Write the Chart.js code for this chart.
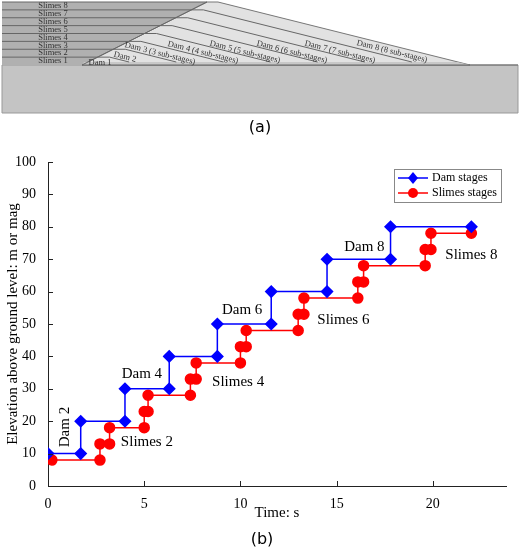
<!DOCTYPE html>
<html><head><meta charset="utf-8">
<script src="https://cdn.jsdelivr.net/npm/chart.js@4"></script>
<style>
html,body{margin:0;padding:0;background:#fff;width:520px;height:554px;overflow:hidden;font-family:"Liberation Serif",serif}
#ca{position:absolute;left:0;top:0;width:520px;height:140px}
#cb{position:absolute;left:0;top:140px;width:520px;height:414px}
</style></head><body>
<div id="ca"><canvas id="a"></canvas></div>
<div id="cb"><canvas id="b"></canvas></div>
<script>
const damX=[0,1.7,1.7,4.0,4.0,6.3,6.3,8.8,8.8,11.6,11.6,14.5,14.5,17.8,17.8,22];
const damY=[10,10,20,20,30,30,40,40,50,50,60,60,70,70,80,80];
const slX=[0.2,2.7,2.7,3.2,3.2,5.0,5.0,5.2,5.2,7.4,7.4,7.7,7.7,10.0,10.0,10.3,10.3,13.0,13.0,13.3,13.3,16.1,16.1,16.4,16.4,19.6,19.6,19.9,19.9,22];
const slY=[8,8,13,13,18,18,23,23,28,28,33,33,38,38,43,43,48,48,53,53,58,58,63,63,68,68,73,73,78,78];
const xTicks=[0,5,10,15,20];
const yTicks=[0,10,20,30,40,50,60,70,80,90,100];
const notes=[["Dam 2",0.87,18.2,-90],["Dam 4",4.88,34.6,0],["Slimes 2",5.14,13.6,0],["Slimes 4",9.88,32.1,0],["Dam 6",10.09,54.3,0],["Slimes 6",15.35,51.2,0],["Dam 8",16.44,73.8,0],["Slimes 8",22.0,71.3,0]];
const slimesNames=["Slimes 1","Slimes 2","Slimes 3","Slimes 4","Slimes 5","Slimes 6","Slimes 7","Slimes 8"];
const damNames=["Dam 1","Dam 2","Dam 3 (3 sub-stages)","Dam 4 (4 sub-stages)","Dam 5 (5 sub-stages)","Dam 6 (6 sub-stages)","Dam 7 (7 sub-stages)","Dam 8 (8 sub-stages)"];
const SERIF='"Liberation Serif", serif';

const diag={id:'diag',afterDraw(c){
 const g=c.ctx,X=v=>c.scales.x.getPixelForValue(v),Y=v=>c.scales.y.getPixelForValue(v);
 const G=65,T=2,band=(G-T)/8;
 const ux=y=>82+(G-y)*125/63;
 const poly=(pts,fill,stroke)=>{g.beginPath();pts.forEach((p,i)=>i?g.lineTo(X(p[0]),Y(p[1])):g.moveTo(X(p[0]),Y(p[1])));g.closePath();if(fill){g.fillStyle=fill;g.fill();}if(stroke){g.strokeStyle=stroke;g.lineWidth=1;g.stroke();}};
 poly([[2,G],[518,G],[518,113],[2,113]],'#c4c4c4','#999');
 poly([[2,T],[ux(T),T],[ux(G),G],[2,G]],'#b0b0b0',null);
 poly([[ux(G),G],[207,T],[218,T],[470,G]],'#e2e2e2','#777');
 poly([[ux(G)+2,G-3],[457,G-3],[470,G],[ux(G),G]],'#c8c8c8',null);
 g.strokeStyle='#666';g.lineWidth=1;
 for(let k=1;k<=8;k++){const y=G-band*k;g.beginPath();g.moveTo(X(2),Y(y));g.lineTo(X(ux(y)),Y(y));g.stroke();}
 g.beginPath();g.moveTo(X(ux(G)),Y(G));g.lineTo(X(207),Y(T));g.stroke();
 for(let k=1;k<=7;k++){const y=G-band*k,x0=ux(y),x1=x0+12;g.beginPath();g.moveTo(X(x0),Y(y));g.lineTo(X(x1),Y(y));g.lineTo(X(x1+(G-3-y)*4),Y(G-3));g.stroke();}
 g.beginPath();g.moveTo(X(ux(G)),Y(G));g.lineTo(X(518),Y(G));g.stroke();
 g.fillStyle='#333';g.font='8.5px '+SERIF;g.textAlign='center';g.textBaseline='middle';
 slimesNames.forEach((s,i)=>g.fillText(s,X(53),Y(G-band*(i+0.5))));
 const pos=[[100,62.5],[125,57],[160,53.5],[203,52.5],[245,52],[292,52],[340,52],[392,51.5]];
 damNames.forEach((s,i)=>{g.save();g.translate(X(pos[i][0]),Y(pos[i][1]));g.rotate(i?Math.atan(0.25):0);g.fillText(s,0,0);g.restore();});
 g.font='16px "DejaVu Sans", sans-serif';g.fillStyle='#000';g.fillText('(a)',X(260),Y(128));
}};
new Chart(document.getElementById('a'),{type:'scatter',data:{datasets:[]},options:{responsive:true,maintainAspectRatio:false,animation:false,
 layout:{padding:0},plugins:{legend:{display:false},tooltip:{enabled:false}},
 scales:{x:{display:false,min:0,max:520},y:{display:false,min:0,max:140,reverse:true}}},plugins:[diag]});

const extra={id:'extra',afterDraw(c){
 const g=c.ctx,xs=c.scales.x,ys=c.scales.y,a=c.chartArea;
 g.save();g.strokeStyle='#222';g.lineWidth=1;
 xTicks.forEach(v=>{const p=Math.round(xs.getPixelForValue(v))+0.5;g.beginPath();g.moveTo(p,a.bottom);g.lineTo(p,a.bottom-5);g.stroke();});
 yTicks.forEach(v=>{const p=Math.round(ys.getPixelForValue(v))+0.5;g.beginPath();g.moveTo(a.left,p);g.lineTo(a.left+5,p);g.stroke();});
 g.fillStyle='#000';g.font='15px '+SERIF;g.textBaseline='middle';g.textAlign='center';
 notes.forEach(n=>{g.save();g.translate(xs.getPixelForValue(n[1]),ys.getPixelForValue(n[2]));g.rotate(n[3]*Math.PI/180);g.fillText(n[0],0,0);g.restore();});
 const lx=394,ly=29,lw=107,lh=33;
 g.fillStyle='#fff';g.fillRect(lx,ly,lw,lh);g.strokeStyle='#888';g.strokeRect(lx+0.5,ly+0.5,lw,lh);
 g.font='12px '+SERIF;g.textAlign='left';
 [['Dam stages','#0000ff','d'],['Slimes stages','#ff0000','c']].forEach((e,i)=>{const yy=ly+9+i*15;
  g.strokeStyle=e[1];g.lineWidth=1.5;g.beginPath();g.moveTo(lx+4,yy);g.lineTo(lx+34,yy);g.stroke();
  g.fillStyle=e[1];g.beginPath();if(e[2]=='d'){g.moveTo(lx+19,yy-6);g.lineTo(lx+24,yy);g.lineTo(lx+19,yy+6);g.lineTo(lx+14,yy);g.closePath();}else{g.arc(lx+19,yy,5,0,Math.PI*2);}g.fill();
  g.fillStyle='#000';g.fillText(e[0],lx+38,yy);});
 g.font='16px "DejaVu Sans", sans-serif';g.textAlign='center';g.fillText('(b)',262,400);
 g.restore();
}};
new Chart(document.getElementById('b'),{type:'scatter',
 data:{datasets:[
  {label:'Dam stages',data:damX.map((x,i)=>({x,y:damY[i]})),showLine:true,borderColor:'#0000ff',backgroundColor:'#0000ff',borderWidth:1.5,pointStyle:'rectRot',pointRadius:5.5},
  {label:'Slimes stages',data:slX.map((x,i)=>({x,y:slY[i]})),showLine:true,borderColor:'#ff0000',backgroundColor:'#ff0000',borderWidth:1.5,pointStyle:'circle',pointRadius:5}
 ]},
 options:{responsive:true,maintainAspectRatio:false,animation:false,
  layout:{padding:{top:22,right:14,left:0,bottom:28}},
  plugins:{legend:{display:false},tooltip:{enabled:false}},
  scales:{
   x:{min:0,max:23.8,afterBuildTicks:s=>{s.ticks=xTicks.map(v=>({value:v}));},grid:{display:false},border:{color:'#222'},
     ticks:{color:'#000',font:{family:SERIF,size:14},padding:2,maxRotation:0},
     title:{display:true,text:'Time: s',color:'#000',font:{family:SERIF,size:15},padding:{top:0}},
     afterFit:s=>{s.height=40;}},
   y:{min:0,max:100,afterBuildTicks:s=>{s.ticks=yTicks.map(v=>({value:v}));},grid:{display:false},border:{color:'#222'},
     ticks:{color:'#000',font:{family:SERIF,size:14},padding:4},
     title:{display:true,text:'Elevation above ground level: m or mag',color:'#000',font:{family:SERIF,size:15},padding:{bottom:2}},
     afterFit:s=>{s.width=48;}}
  }},plugins:[extra]});
</script></body></html>
